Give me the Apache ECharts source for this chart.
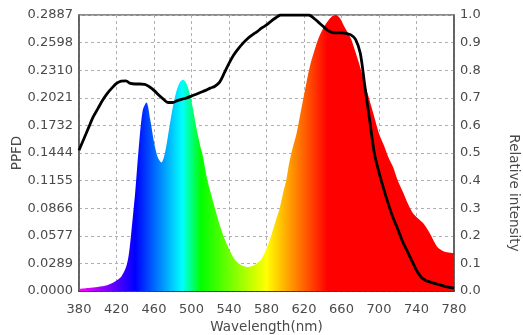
<!DOCTYPE html>
<html>
<head>
<meta charset="utf-8">
<script src="https://cdn.jsdelivr.net/npm/echarts@6/dist/echarts.min.js"></script>
<style>
  html, body { margin: 0; padding: 0; background: #fff; }
  #chart { width: 523px; height: 335px; }
</style>
</head>
<body>
<div id="chart"></div>
<script>
// spectrum (PPFD, left axis)
const specNm = [380, 390, 400, 410, 415, 420, 425, 430, 433, 436, 440, 444, 448, 452, 456, 460, 464, 468, 472, 476,
  480, 484, 488, 491, 494, 497, 501, 505, 509, 512, 517, 521, 525, 530, 536, 541, 546, 551, 556, 560,
  564, 569, 574, 579, 584, 589, 594, 598, 601, 604, 608, 612, 616, 620, 626, 631, 636, 641, 646, 650,
  654, 658, 662, 666, 670, 675, 680, 685, 690, 695, 700, 705, 710, 715, 720, 726, 731, 736, 742, 747,
  754, 762, 768, 774, 780];
const specPpfd = [0.0023, 0.0032, 0.0043, 0.0061, 0.0081, 0.0110, 0.0150, 0.0245, 0.0375, 0.0635, 0.1039, 0.1530, 0.1891, 0.1972, 0.1790, 0.1559, 0.1400, 0.1345, 0.1458, 0.1689,
  0.1920, 0.2093, 0.2188, 0.2209, 0.2180, 0.2102, 0.1934, 0.1715, 0.1530, 0.1415, 0.1155, 0.1010, 0.0866, 0.0693, 0.0528, 0.0419, 0.0332, 0.0283, 0.0260, 0.0251,
  0.0260, 0.0283, 0.0323, 0.0419, 0.0549, 0.0707, 0.0866, 0.1039, 0.1155, 0.1328, 0.1501, 0.1646, 0.1848, 0.2050, 0.2338, 0.2512, 0.2656, 0.2757, 0.2829, 0.2873,
  0.2887, 0.2858, 0.2786, 0.2714, 0.2642, 0.2497, 0.2338, 0.2165, 0.1992, 0.1819, 0.1646, 0.1530, 0.1400, 0.1296, 0.1155, 0.1025, 0.0909, 0.0817, 0.0756, 0.0710,
  0.0606, 0.0462, 0.0419, 0.0404, 0.0398];

// relative intensity (right axis), every 5 nm from 380
const relNm = [];
for (let w = 380; w <= 780; w += 5) relNm.push(w);
const relIntensity = [0.51, 0.55, 0.59, 0.63, 0.66, 0.69, 0.715, 0.735, 0.752, 0.76,
  0.761, 0.752, 0.75, 0.75, 0.749, 0.74, 0.727, 0.71, 0.695, 0.683,
  0.683, 0.69, 0.695, 0.70, 0.706, 0.713, 0.72, 0.727, 0.735, 0.742,
  0.757, 0.79, 0.825, 0.855, 0.878, 0.898, 0.915, 0.928, 0.94, 0.953,
  0.964, 0.978, 0.99, 1.0, 1.0, 1.0, 1.0, 1.0, 1.0, 1.0,
  0.99, 0.975, 0.96, 0.945, 0.937, 0.935, 0.935, 0.933, 0.928, 0.912,
  0.862, 0.74, 0.62, 0.50, 0.43, 0.37, 0.315, 0.265, 0.225, 0.18,
  0.145, 0.11, 0.075, 0.05, 0.038, 0.032, 0.027, 0.022, 0.017, 0.013,
  0.01];

const ppfdTickLabels = ['0.0000', '0.0289', '0.0577', '0.0866', '0.1155', '0.1444',
  '0.1732', '0.2021', '0.2310', '0.2598', '0.2887'];
const ppfdStep = 0.02887;

const spectrumColors = new echarts.graphic.LinearGradient(0, 0, 1, 0, [
  { offset: 0, color: '#ff00ff' },
  { offset: 0.15, color: '#0000ff' },
  { offset: 0.275, color: '#00ffff' },
  { offset: 0.325, color: '#00ff00' },
  { offset: 0.5, color: '#ffff00' },
  { offset: 0.6625, color: '#ff0000' },
  { offset: 1, color: '#ff0000' }
]);

const font = 'DejaVu Sans, Verdana, sans-serif';
const labelStyle = { color: '#4a4a4a', fontSize: 13, fontFamily: font };
const nameStyle = { color: '#4a4a4a', fontSize: 13.5, fontFamily: font };
const dashed = { lineStyle: { color: '#b0b0b0', type: [3, 3], width: 1 } };

const chart = echarts.init(document.getElementById('chart'));
chart.setOption({
  animation: false,
  grid: {
    left: 79, right: 69, top: 15, bottom: 44, outerBoundsMode: 'none',
    show: true, borderColor: '#666', borderWidth: 1.5
  },
  xAxis: {
    type: 'value', min: 380, max: 780, interval: 40,
    name: 'Wavelength(nm)', nameLocation: 'middle', nameGap: 29,
    nameTextStyle: nameStyle,
    axisLine: { lineStyle: { color: '#222', width: 1.5 } },
    axisTick: { show: false },
    axisLabel: Object.assign({ margin: 12 }, labelStyle),
    splitLine: Object.assign({ show: true }, dashed)
  },
  yAxis: [
    {
      type: 'value', min: 0, max: 0.2887, interval: ppfdStep,
      name: 'PPFD', nameLocation: 'middle', nameGap: 55, nameMoveOverlap: false,
      nameTextStyle: nameStyle,
      axisLine: { show: true, lineStyle: { color: '#555', width: 1.5 } },
      axisTick: { show: false },
      axisLabel: Object.assign({
        margin: 6,
        formatter: v => ppfdTickLabels[Math.round(v / ppfdStep)]
      }, labelStyle),
      splitLine: Object.assign({ show: true }, dashed)
    },
    {
      type: 'value', min: 0, max: 1, interval: 0.1, position: 'right',
      name: 'Relative intensity', nameLocation: 'middle', nameGap: 52, nameRotate: -90,
      nameTextStyle: Object.assign({ padding: [0, 0, 0, 80] }, nameStyle),
      axisLine: { show: true, lineStyle: { color: '#555', width: 1.5 } },
      axisTick: { show: false },
      axisLabel: Object.assign({ margin: 6, formatter: v => v.toFixed(1) }, labelStyle),
      splitLine: { show: false }
    }
  ],
  series: [
    {
      type: 'line', yAxisIndex: 0,
      data: specNm.map((w, i) => [w, specPpfd[i]]),
      smooth: 0.3, showSymbol: false,
      lineStyle: { width: 0 },
      areaStyle: { color: spectrumColors, opacity: 1 },
      z: 2
    },
    {
      type: 'line', yAxisIndex: 1,
      data: relNm.map((w, i) => [w, relIntensity[i]]),
      smooth: 0.3, showSymbol: false,
      lineStyle: { color: '#000', width: 2.8 },
      z: 3
    }
  ]
});
</script>
</body>
</html>
